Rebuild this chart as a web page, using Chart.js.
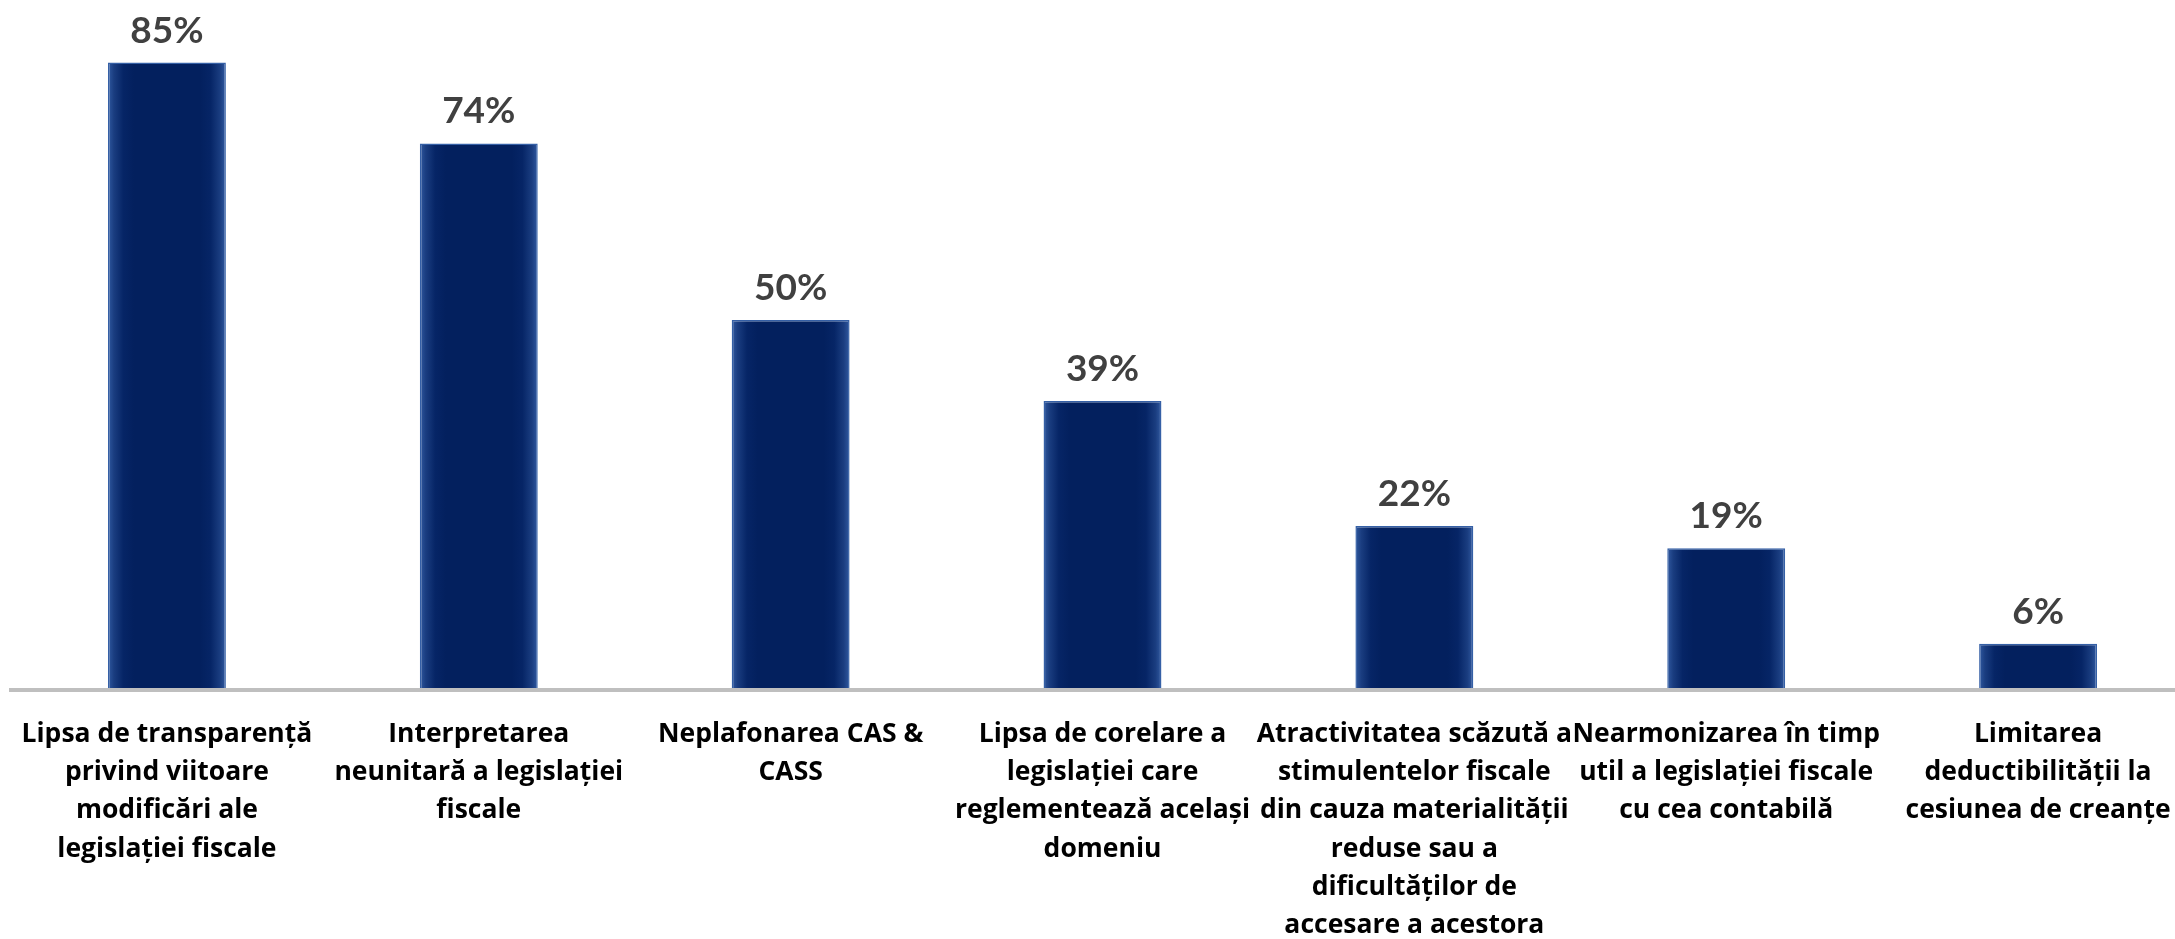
<!DOCTYPE html>
<html>
<head>
<meta charset="utf-8">
<script src="https://cdn.jsdelivr.net/npm/chart.js@4.4.1/dist/chart.umd.min.js"></script>
<style>
  html, body { margin: 0; padding: 0; background: #ffffff; overflow: hidden; }
  #wrap { position: relative; width: 2194px; height: 939px; }
</style>
</head>
<body>
<div id="wrap"><canvas id="c"></canvas></div>
<script>
// ---- data ----
const categories = [
  ["Lipsa de transparență", "privind viitoare", "modificări ale", "legislației fiscale"],
  ["Interpretarea", "neunitară a legislației", "fiscale"],
  ["Neplafonarea CAS &", "CASS"],
  ["Lipsa de corelare a", "legislației care", "reglementează același", "domeniu"],
  ["Atractivitatea scăzută a", "stimulentelor fiscale", "din cauza materialității", "reduse sau a", "dificultăților de", "accesare a acestora"],
  ["Nearmonizarea în timp", "util a legislației fiscale", "cu cea contabilă"],
  ["Limitarea", "deductibilității la", "cesiunea de creanțe"]
];
const values = [85, 74, 50, 39, 22, 19, 6];
const valueLabels = values.map(v => v + "%");

// ---- styling ----
const BAR_PCT = 0.378;

function barFill(ctx) {
  const chart = ctx.chart;
  const xs = chart.scales && chart.scales.x;
  if (!xs || ctx.dataIndex === undefined || !isFinite(xs.width) || xs.width <= 0) return '#03215F';
  const cx = xs.getPixelForValue(ctx.dataIndex);
  const half = (xs.width / categories.length) * BAR_PCT / 2;
  const g = chart.ctx.createLinearGradient(cx - half, 0, cx + half, 0);
  g.addColorStop(0.00, '#3059a0');
  g.addColorStop(0.05, '#1a3d80');
  g.addColorStop(0.13, '#062566');
  g.addColorStop(0.22, '#03205e');
  g.addColorStop(0.78, '#03205e');
  g.addColorStop(0.87, '#062566');
  g.addColorStop(0.95, '#1a3d80');
  g.addColorStop(1.00, '#3059a0');
  return g;
}

const valueLabelPlugin = {
  id: 'valueLabels',
  afterDatasetsDraw(chart) {
    const c = chart.ctx;
    const meta = chart.getDatasetMeta(0);
    c.save();
    c.font = 'bold 37px Lato, "Open Sans", sans-serif';
    c.fillStyle = '#404040';
    c.textAlign = 'center';
    c.textBaseline = 'alphabetic';
    meta.data.forEach((bar, i) => {
      c.fillText(valueLabels[i], bar.x, bar.y - 20);
    });
    c.restore();
  }
};

new Chart(document.getElementById('c'), {
  type: 'bar',
  data: {
    labels: categories,
    datasets: [{
      data: values,
      backgroundColor: barFill,
      borderColor: '#3560a6',
      borderWidth: 1.5,
      barPercentage: BAR_PCT,
      categoryPercentage: 1.0
    }]
  },
  options: {
    responsive: true,
    maintainAspectRatio: false,
    animation: false,
    layout: { padding: { left: 11, right: 0, top: 0, bottom: 0 } },
    plugins: {
      legend: { display: false },
      tooltip: { enabled: false },
      title: { display: false }
    },
    scales: {
      x: {
        grid: { display: false, drawTicks: false },
        border: { display: true, color: '#bfbfbf', width: 4 },
        ticks: {
          autoSkip: false,
          maxRotation: 0,
          minRotation: 0,
          padding: 25,
          color: '#000000',
          font: { family: '"Open Sans", Lato, sans-serif', size: 26.5, weight: 'bold', lineHeight: 1.445 }
        },
        afterFit: s => {
          s.height = 249;
          s.paddingLeft = 0;
          s.paddingRight = 0;
        }
      },
      y: {
        display: false,
        min: -0.28,
        max: 93.5
      }
    }
  },
  plugins: [valueLabelPlugin]
});
</script>
</body>
</html>
